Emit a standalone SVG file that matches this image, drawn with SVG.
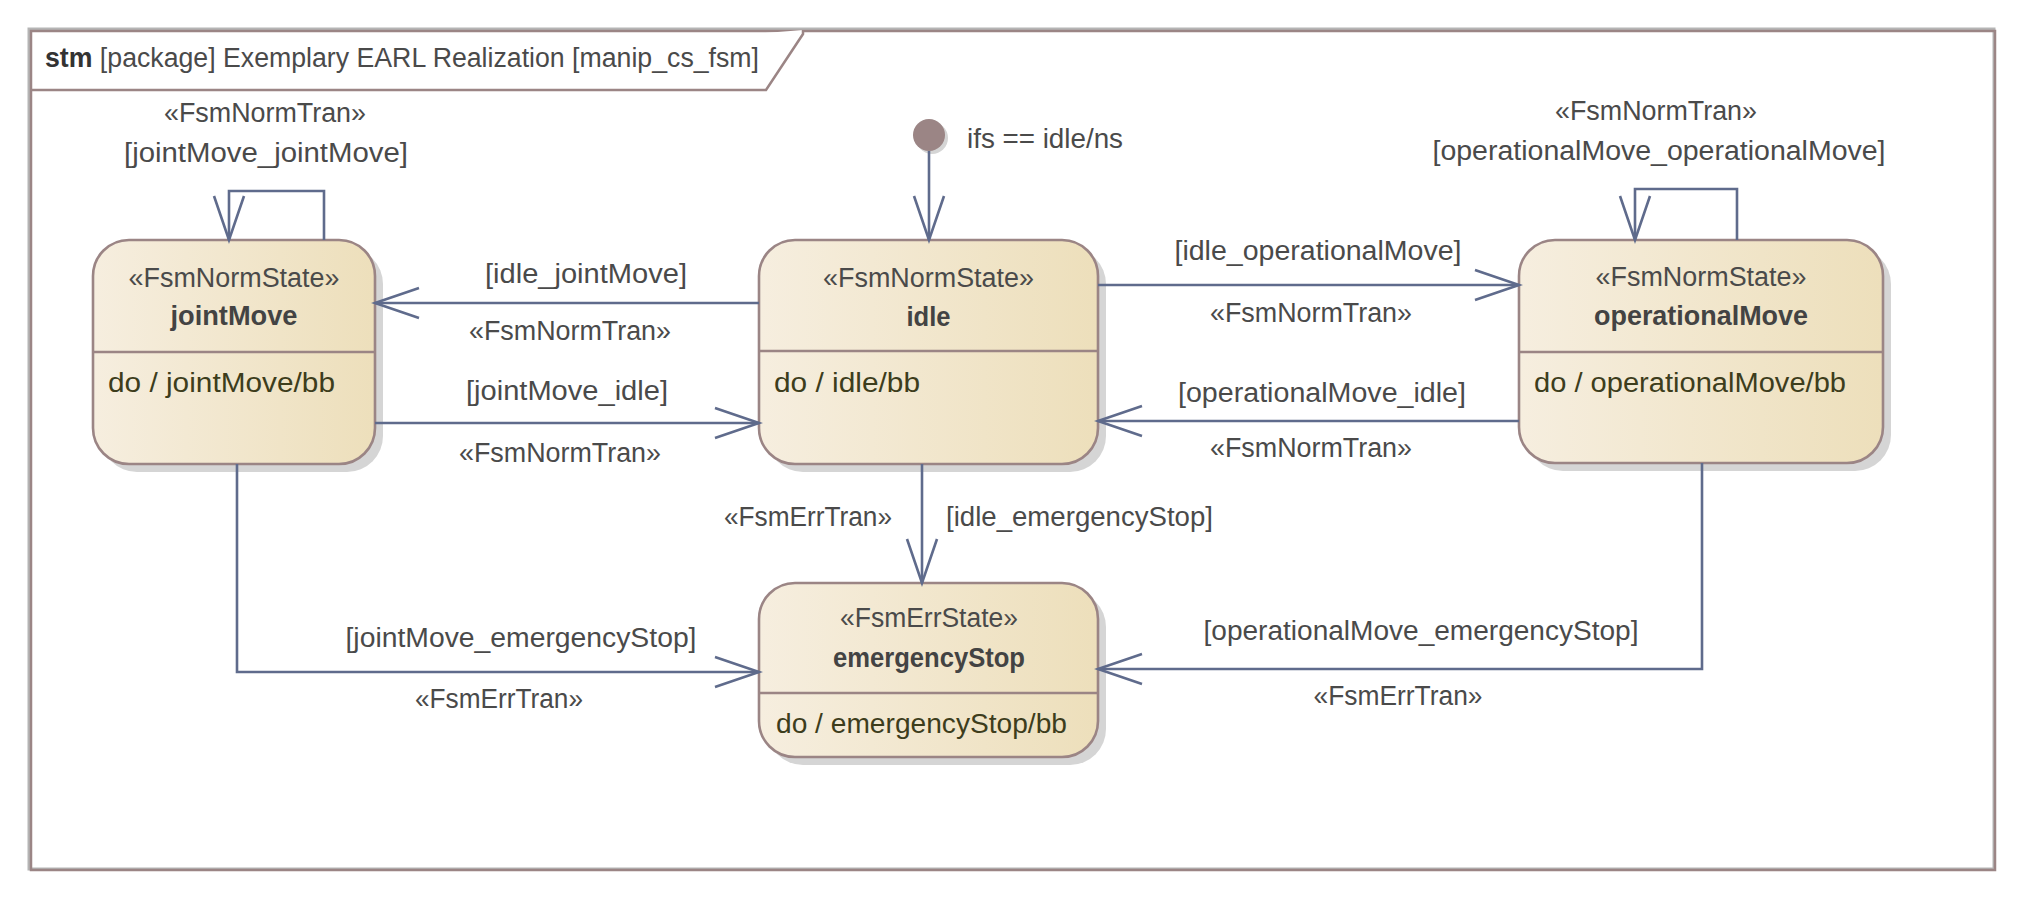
<svg xmlns="http://www.w3.org/2000/svg" width="2025" height="900" viewBox="0 0 2025 900">
<defs>
<linearGradient id="stateFill" x1="0" y1="0" x2="1" y2="0">
<stop offset="0" stop-color="#f6eedf"/>
<stop offset="1" stop-color="#eddfbb"/>
</linearGradient>
<marker id="arrow" markerUnits="userSpaceOnUse" markerWidth="52" markerHeight="36" viewBox="-48 -18 52 36" refX="0" refY="0" orient="auto">
<path d="M-44,-15 L0,0 L-44,15" fill="none" stroke="#5f6b8c" stroke-width="2.6"/>
</marker>
</defs>
<style>
text { font-family: "Liberation Sans", Arial, sans-serif; font-size: 27px; fill: #4a4a4a; }
.c { text-anchor: middle; }
.e { text-anchor: end; }
.b { font-weight: bold; fill: #434343; }
.act { fill: #3d3d1c; }
.shadow { fill: #d5d5d5; }
.state { fill: url(#stateFill); stroke: #9b8585; stroke-width: 2.6; }
.div { stroke: #9b8585; stroke-width: 2.6; }
.conn { fill: none; stroke: #5f6b8c; stroke-width: 2.6; }
</style>
<rect x="0" y="0" width="2025" height="900" fill="#ffffff"/>
<g id="frame">
<rect x="29" y="29" width="1965" height="840" fill="none" stroke="#b5b5b5" stroke-width="3"/>
<rect x="31" y="31" width="1964" height="839" fill="none" stroke="#9b8585" stroke-width="2.5"/>
<path d="M30,90 L766,90 L803,34 L803,30" fill="#ffffff" stroke="#9b8585" stroke-width="2.5"/>
<text x="45" y="67" font-size="26" textLength="714" lengthAdjust="spacingAndGlyphs"><tspan font-weight="bold" fill="#333333">stm</tspan> [package] Exemplary EARL Realization [manip_cs_fsm]</text>
</g>
<g id="initial">
<circle cx="932" cy="138" r="16" class="shadow"/>
<circle cx="929" cy="135" r="16" fill="#9b8585"/>
</g>
<g id="jointMove">
<rect x="101" y="248" width="282" height="224" rx="36" class="shadow"/>
<rect x="93" y="240" width="282" height="224" rx="36" class="state"/>
<line x1="93" y1="352" x2="375" y2="352" class="div"/>
<text x="234" y="287" class="c" textLength="211" lengthAdjust="spacingAndGlyphs">«FsmNormState»</text>
<text x="234" y="325" class="c b" textLength="127" lengthAdjust="spacingAndGlyphs">jointMove</text>
<text x="108" y="392" class="act" textLength="227" lengthAdjust="spacingAndGlyphs">do / jointMove/bb</text>
</g>
<g id="idle">
<rect x="767" y="248" width="339" height="224" rx="36" class="shadow"/>
<rect x="759" y="240" width="339" height="224" rx="36" class="state"/>
<line x1="759" y1="351" x2="1098" y2="351" class="div"/>
<text x="928.5" y="287" class="c" textLength="211" lengthAdjust="spacingAndGlyphs">«FsmNormState»</text>
<text x="928.5" y="326" class="c b" textLength="44" lengthAdjust="spacingAndGlyphs">idle</text>
<text x="774" y="392" class="act" textLength="146" lengthAdjust="spacingAndGlyphs">do / idle/bb</text>
</g>
<g id="operationalMove">
<rect x="1527" y="248" width="364" height="223" rx="36" class="shadow"/>
<rect x="1519" y="240" width="364" height="223" rx="36" class="state"/>
<line x1="1519" y1="352" x2="1883" y2="352" class="div"/>
<text x="1701" y="286" class="c" textLength="211" lengthAdjust="spacingAndGlyphs">«FsmNormState»</text>
<text x="1701" y="325" class="c b" textLength="214" lengthAdjust="spacingAndGlyphs">operationalMove</text>
<text x="1534" y="392" class="act" textLength="312" lengthAdjust="spacingAndGlyphs">do / operationalMove/bb</text>
</g>
<g id="emergencyStop">
<rect x="767" y="591" width="339" height="174" rx="36" class="shadow"/>
<rect x="759" y="583" width="339" height="174" rx="36" class="state"/>
<line x1="759" y1="693" x2="1098" y2="693" class="div"/>
<text x="929" y="627" class="c" textLength="178" lengthAdjust="spacingAndGlyphs">«FsmErrState»</text>
<text x="929" y="667" class="c b" textLength="192" lengthAdjust="spacingAndGlyphs">emergencyStop</text>
<text x="776" y="733" class="act" textLength="291" lengthAdjust="spacingAndGlyphs">do / emergencyStop/bb</text>
</g>
<g id="connectors">
<path d="M929,151 L929,240" class="conn" marker-end="url(#arrow)"/>
<path d="M759,303 L375,303" class="conn" marker-end="url(#arrow)"/>
<path d="M375,423 L759,423" class="conn" marker-end="url(#arrow)"/>
<path d="M1098,285 L1519,285" class="conn" marker-end="url(#arrow)"/>
<path d="M1519,421 L1098,421" class="conn" marker-end="url(#arrow)"/>
<path d="M922,464 L922,583" class="conn" marker-end="url(#arrow)"/>
<path d="M237,464 L237,672 L759,672" class="conn" marker-end="url(#arrow)"/>
<path d="M1702,463 L1702,669 L1098,669" class="conn" marker-end="url(#arrow)"/>
<path d="M324,240 L324,191 L229,191 L229,240" class="conn" marker-end="url(#arrow)"/>
<path d="M1737,240 L1737,189 L1635,189 L1635,240" class="conn" marker-end="url(#arrow)"/>
</g>
<g id="labels">
<text x="265" y="122" class="c" textLength="202" lengthAdjust="spacingAndGlyphs">«FsmNormTran»</text>
<text x="266" y="162" class="c" textLength="284" lengthAdjust="spacingAndGlyphs">[jointMove_jointMove]</text>
<text x="967" y="148" textLength="156" lengthAdjust="spacingAndGlyphs">ifs == idle/ns</text>
<text x="1656" y="120" class="c" textLength="202" lengthAdjust="spacingAndGlyphs">«FsmNormTran»</text>
<text x="1659" y="160" class="c" textLength="453" lengthAdjust="spacingAndGlyphs">[operationalMove_operationalMove]</text>
<text x="586" y="283" class="c" textLength="202" lengthAdjust="spacingAndGlyphs">[idle_jointMove]</text>
<text x="570" y="340" class="c" textLength="202" lengthAdjust="spacingAndGlyphs">«FsmNormTran»</text>
<text x="567" y="400" class="c" textLength="202" lengthAdjust="spacingAndGlyphs">[jointMove_idle]</text>
<text x="560" y="462" class="c" textLength="202" lengthAdjust="spacingAndGlyphs">«FsmNormTran»</text>
<text x="1318" y="260" class="c" textLength="287" lengthAdjust="spacingAndGlyphs">[idle_operationalMove]</text>
<text x="1311" y="322" class="c" textLength="202" lengthAdjust="spacingAndGlyphs">«FsmNormTran»</text>
<text x="1322" y="402" class="c" textLength="288" lengthAdjust="spacingAndGlyphs">[operationalMove_idle]</text>
<text x="1311" y="457" class="c" textLength="202" lengthAdjust="spacingAndGlyphs">«FsmNormTran»</text>
<text x="892" y="526" class="e" textLength="168" lengthAdjust="spacingAndGlyphs">«FsmErrTran»</text>
<text x="946" y="526" textLength="267" lengthAdjust="spacingAndGlyphs">[idle_emergencyStop]</text>
<text x="521" y="647" class="c" textLength="351" lengthAdjust="spacingAndGlyphs">[jointMove_emergencyStop]</text>
<text x="499" y="708" class="c" textLength="168" lengthAdjust="spacingAndGlyphs">«FsmErrTran»</text>
<text x="1421" y="640" class="c" textLength="435" lengthAdjust="spacingAndGlyphs">[operationalMove_emergencyStop]</text>
<text x="1398" y="705" class="c" textLength="169" lengthAdjust="spacingAndGlyphs">«FsmErrTran»</text>
</g>
</svg>
